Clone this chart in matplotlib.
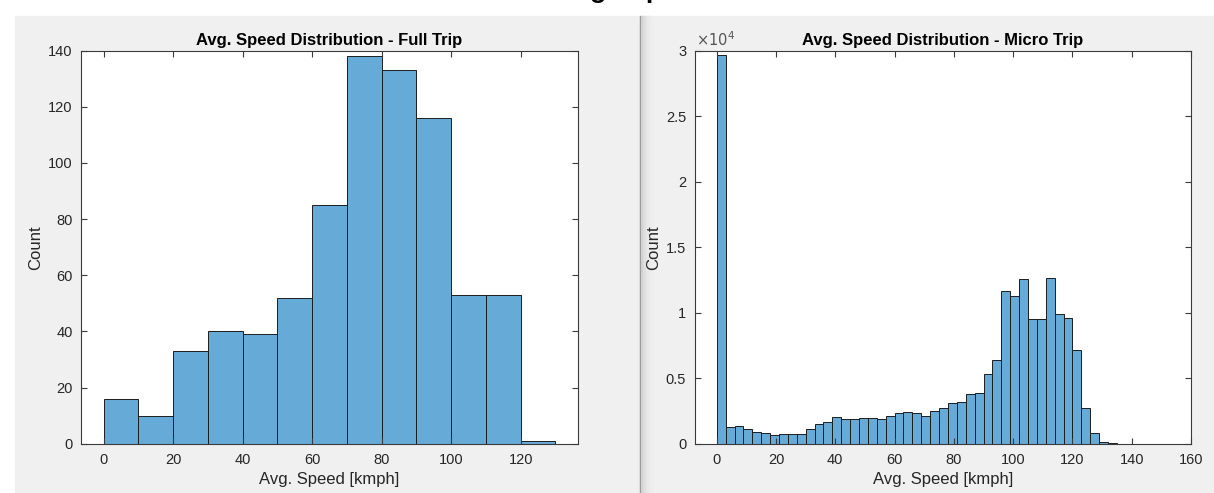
import numpy as np
import matplotlib
matplotlib.use("Agg")
import matplotlib.pyplot as plt
from matplotlib.patches import Rectangle
from matplotlib.ticker import FuncFormatter

plt.rcParams['font.family'] = ['Liberation Sans', 'DejaVu Sans']

# full trip histogram, bin width 10
full_edges = np.arange(0, 140, 10)
full_counts = [16, 10, 33, 40, 39, 52, 85, 138, 133, 116, 53, 53, 1]

# micro trip histogram, bin width 3
micro_edges = np.arange(0, 138, 3)
micro_counts = [29700, 1290, 1330, 1100, 920, 800, 680, 770, 770, 770,
                1150, 1530, 1680, 2050, 1910, 1860, 1990, 1990, 1860, 2090,
                2330, 2430, 2330, 2150, 2520, 2750, 3090, 3150, 3800, 3840,
                5320, 6370, 11620, 11300, 12570, 9510, 9510, 12640, 9930, 9590,
                7130, 2760, 840, 140, 90]

W, H = 1214, 493
fig = plt.figure(figsize=(W / 100, H / 100), dpi=100, facecolor='white')

# grey panels like the matlab window (drawn under the axes)
grey = '#f0f0f0'
fig.patches.append(Rectangle((15 / W, 0), (640 - 15) / W, (H - 16) / H,
                             transform=fig.transFigure, color=grey, zorder=-3))
fig.patches.append(Rectangle((641 / W, 0), (W - 641) / W, (H - 16) / H,
                             transform=fig.transFigure, color=grey, zorder=-3))
fig.patches.append(Rectangle((639.8 / W, 0), 1.2 / W, (H - 16) / H,
                             transform=fig.transFigure, color='#8f8f8f', zorder=-2))
shade = ['#d2d2d2', '#dadada', '#e0e0e0', '#e5e5e5', '#e9e9e9', '#ececec', '#eeeeee']
for i, c in enumerate(shade):
    fig.patches.append(Rectangle(((641 + i * 1.6) / W, 0), 1.6 / W, (H - 16) / H,
                                 transform=fig.transFigure, color=c, zorder=-2))

# big title, cut off at the top of the screenshot
fig.text(0.505, 1 + 1.5 / H, 'Average Speed', ha='center', va='baseline',
         fontsize=19, fontweight='bold', color='black')

face = '#66aad7'
edge = '#1c1c1c'
txt = '#262626'


def style(ax):
    ax.set_facecolor('white')
    for s in ax.spines.values():
        s.set_color('#3a3a3a')
        s.set_linewidth(0.8)
    ax.tick_params(direction='in', top=True, right=True, length=4.5, width=0.8,
                   colors='#3a3a3a', labelcolor=txt, labelsize=10.5)
    ax.tick_params(axis='x', pad=7)
    ax.tick_params(axis='y', pad=6)


bottom = 49.3 / H
height = 393 / H

ax1 = fig.add_axes([81 / W, bottom, 497 / W, height])
ax1.bar(full_edges[:-1], full_counts, width=10, align='edge', color=face,
        edgecolor=edge, linewidth=0.7)
ax1.set_xlim(-6.5, 136.5)
ax1.set_ylim(0, 140)
ax1.set_xticks(np.arange(0, 121, 20))
ax1.set_yticks(np.arange(0, 141, 20))
style(ax1)
ax1.set_title('Avg. Speed Distribution - Full Trip', fontsize=12, fontweight='bold',
              color='black', pad=4)
ax1.set_xlabel('Avg. Speed [kmph]', fontsize=12, color=txt, labelpad=3.5)
ax1.set_ylabel('Count', fontsize=12, color=txt, labelpad=3.5)

ax2 = fig.add_axes([694.5 / W, bottom, 496.5 / W, height])
ax2.bar(micro_edges[:-1], micro_counts, width=3, align='edge', color=face,
        edgecolor=edge, linewidth=0.7)
ax2.set_xlim(-7.5, 160)
ax2.set_ylim(0, 30000)
ax2.set_xticks(np.arange(0, 161, 20))
ax2.set_yticks(np.arange(0, 30001, 5000))
ax2.yaxis.set_major_formatter(FuncFormatter(lambda v, p: '%g' % (v / 1e4)))
style(ax2)
ax2.set_title('Avg. Speed Distribution - Micro Trip', fontsize=12, fontweight='bold',
              color='black', pad=4)
ax2.set_xlabel('Avg. Speed [kmph]', fontsize=12, color=txt, labelpad=3.5)
ax2.set_ylabel('Count', fontsize=12, color=txt, labelpad=3.5)
ax2.text(0.003, 1.004, r'$\times10^{4}$', transform=ax2.transAxes, ha='left', va='bottom',
         fontsize=10.5, color='#555555')

fig.savefig('out.png', dpi=100, facecolor='white')
